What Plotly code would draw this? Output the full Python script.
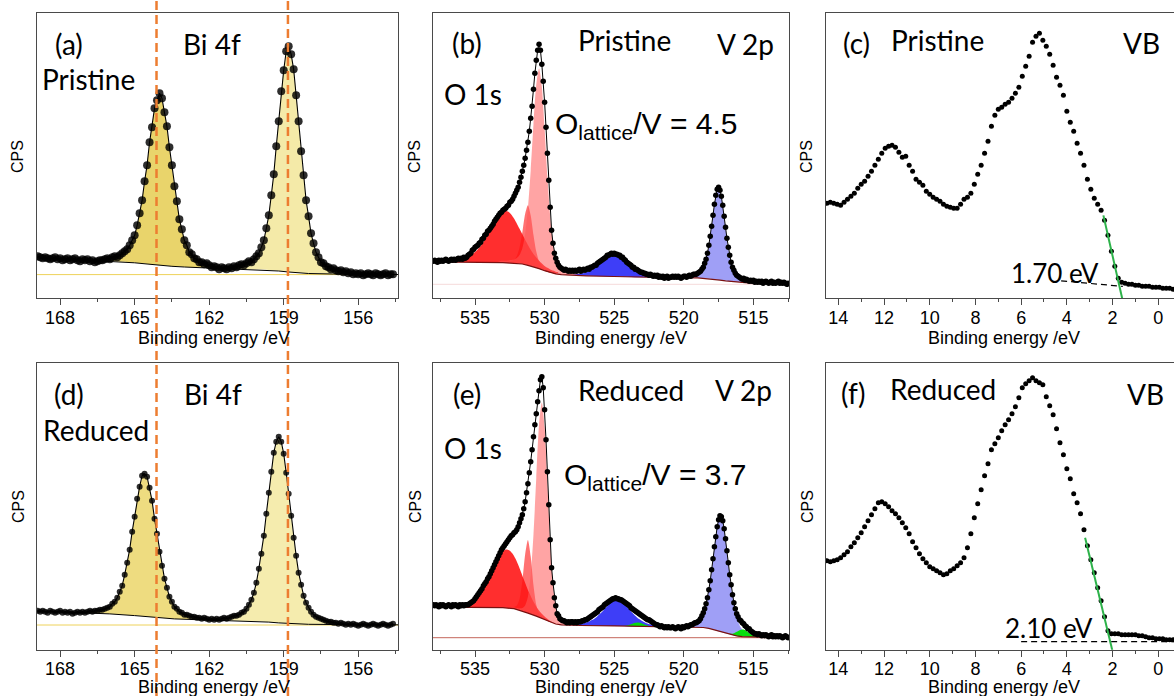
import plotly.graph_objects as go

FIG_W, FIG_H = 1174, 696

# ---------------- Bi 4f spectra (panels a, d) ----------------
# measured counts, 0.1 eV steps downward from the start energy
bi_step = 0.1
bi_p_start = 168.9
bi_p_counts = [
    42, 41, 40, 41, 40, 39, 40, 41, 39, 40,
    38, 39, 40, 38, 39, 40, 38, 37, 39, 38,
    39, 37, 38, 36, 37, 38, 38, 39, 40, 39,
    41, 42, 41, 43, 45, 47, 49, 53, 58, 63,
    73, 85, 98, 117, 133, 156, 171, 190, 198, 205,
    200, 186, 172, 151, 133, 112, 97, 79, 69, 58,
    53, 46, 44, 40, 39, 36, 36, 34, 35, 33,
    31, 32, 31, 29, 31, 30, 29, 31, 30, 32,
    31, 33, 34, 33, 35, 37, 36, 39, 42, 45,
    51, 58, 70, 83, 103, 124, 152, 177, 207, 228,
    247, 252, 244, 229, 203, 177, 147, 123, 98, 82,
    65, 55, 46, 41, 36, 35, 32, 31, 29, 30,
    28, 27, 28, 26, 27, 25, 26, 24, 25, 24,
    25, 23, 24, 25, 24, 23, 25, 24, 23, 24,
    25, 23, 24, 24,
]
bi_r_start = 168.9
bi_r_counts = [
    39, 38, 39, 38, 37, 39, 38, 37, 38, 39,
    37, 38, 37, 38, 36, 37, 38, 37, 38, 37,
    38, 39, 38, 39, 39, 40, 40, 41, 42, 43,
    46, 48, 52, 58, 64, 75, 87, 100, 118, 133,
    151, 163, 174, 176, 173, 162, 149, 131, 116, 98,
    84, 71, 62, 53, 48, 43, 41, 38, 37, 35,
    35, 34, 33, 33, 32, 32, 31, 32, 31, 30,
    31, 30, 31, 30, 31, 32, 31, 32, 33, 34,
    34, 35, 37, 38, 41, 45, 50, 57, 67, 81,
    96, 114, 136, 157, 178, 197, 208, 213, 208, 196,
    177, 156, 134, 112, 94, 77, 65, 54, 47, 42,
    38, 35, 33, 32, 31, 30, 29, 28, 28, 27,
    27, 26, 27, 26, 25, 26, 25, 26, 25, 24,
    25, 26, 25, 24, 25, 26, 25, 24, 25, 26,
    25, 24, 25, 26,
]

# Shirley backgrounds (knots)
bi_p_bg_E = [168.93, 168.0, 167.0, 166.0, 165.5, 165.0, 164.5, 164.0, 163.5, 163.0, 162.0,
             161.0, 160.0, 159.6, 159.2, 158.8, 158.4, 158.0, 157.0, 156.0, 154.4]
bi_p_bg_I = [40.6, 39.5, 38.5, 37.3, 36.5, 35.5, 34.3, 33.0, 32.0, 31.3, 30.3,
             29.5, 28.7, 28.3, 27.3, 26.3, 25.4, 24.8, 24.3, 24.0, 23.8]
bi_r_bg_E = [168.93, 168.0, 167.0, 166.0, 165.0, 164.6, 164.0, 163.4, 162.0, 161.0,
             160.0, 159.6, 159.2, 158.8, 158.4, 158.0, 157.0, 156.0, 154.4]
bi_r_bg_I = [38.7, 37.8, 36.8, 35.8, 34.1, 33.1, 31.7, 30.8, 29.6, 28.9,
             28.1, 27.6, 26.8, 26.1, 25.6, 25.4, 25.2, 25.0, 24.9]

# fitted components: upper edge of each peak on a 0.2 eV grid from its start energy
fit_step = 0.2
bi_p_f52_start = 166.8
bi_p_f52 = [38.9, 38.9, 39.0, 39.3, 40.0, 41.0, 42.7, 45.8, 51.9, 63.5, 84.0, 115.5, 154.0, 188.5, 203.0,
            187.6, 152.2, 112.9, 80.6, 59.3, 47.1, 40.4, 36.7, 34.5, 33.0, 31.9, 31.1, 30.65, 30.15]
bi_p_f72_start = 161.6
bi_p_f72 = [30.6, 30.9, 31.2, 31.9, 32.8, 34.1, 35.9, 38.9, 45.1, 58.5, 84.3, 124.8, 178.3, 229.3, 251.3,
            228.3, 176.4, 122.1, 80.8, 54.6, 40.9, 34.5, 31.3, 29.3, 27.7, 26.5, 25.7, 25.1, 24.7]
bi_r_f52_start = 167.4
bi_r_f52 = [37.6, 37.7, 37.8, 38.2, 38.7, 39.6, 41.1, 43.4, 47.9, 57.4, 74.9, 101.0, 133.5, 163.6, 176.1,
            162.6, 131.5, 98.2, 71.3, 53.2, 43.2, 38.2, 35.5, 33.6, 32.4, 31.5, 30.8, 30.3, 29.9]
bi_r_f72_start = 162.0
bi_r_f72 = [30.2, 30.4, 30.6, 31.2, 32.0, 33.4, 35.4, 38.5, 44.6, 57.1, 80.2, 114.4, 156.9, 196.3, 212.8,
            195.5, 155.4, 112.3, 77.7, 54.3, 41.6, 35.2, 32.0, 29.7, 28.2, 27.2, 26.4, 26.0, 25.7]
bi_p_zero = 23.7
bi_r_zero = 24.7
bi_ref_lines = [164.12, 158.83]

# ---------------- O 1s + V 2p spectra (panels b, e) ----------------
ov_step = 0.1
ov_p_start = 538.0
ov_p_counts = [
    37, 38, 37, 36, 38, 37, 38, 37, 38, 39,
    38, 37, 38, 39, 38, 39, 38, 39, 40, 39,
    40, 39, 41, 40, 41, 43, 44, 45, 48, 49,
    51, 52, 53, 55, 56, 59, 60, 63, 64, 67,
    68, 70, 72, 74, 77, 79, 81, 83, 85, 86,
    88, 89, 90, 92, 93, 96, 97, 99, 102, 105,
    108, 111, 116, 121, 127, 133, 140, 148, 156, 167,
    180, 192, 209, 225, 238, 248, 254, 248, 234, 217,
    196, 171, 145, 118, 91, 68, 55, 45, 40, 36,
    33, 31, 30, 29, 28, 29, 28, 27, 28, 27,
    28, 27, 28, 27, 28, 29, 27, 28, 29, 28,
    29, 30, 29, 31, 31, 32, 33, 33, 35, 36,
    37, 38, 39, 40, 41, 43, 43, 44, 45, 44,
    45, 44, 44, 43, 43, 41, 41, 39, 38, 36,
    35, 34, 33, 31, 31, 29, 29, 28, 27, 26,
    26, 25, 25, 24, 24, 23, 24, 23, 22, 23,
    22, 23, 21, 22, 21, 22, 20, 21, 22, 20,
    21, 21, 22, 21, 22, 21, 22, 21, 20, 21,
    22, 22, 21, 22, 23, 22, 23, 24, 24, 24,
    25, 26, 27, 29, 31, 35, 39, 45, 53, 62,
    72, 83, 94, 103, 109, 111, 108, 102, 93, 82,
    71, 60, 51, 43, 36, 31, 28, 25, 23, 22,
    21, 20, 19, 20, 18, 19, 18, 17, 18, 17,
    18, 16, 17, 16, 17, 16, 17, 15, 16, 17,
    16, 15, 16, 17, 15, 16, 15, 16, 17, 15,
    16, 15, 16, 15, 14, 15,
]
ov_r_start = 538.0
ov_r_counts = [
    45, 44, 45, 44, 43, 45, 44, 45, 44, 43,
    44, 45, 44, 43, 45, 44, 45, 44, 43, 45,
    44, 45, 44, 45, 45, 45, 46, 47, 48, 49,
    51, 53, 55, 57, 59, 61, 64, 66, 68, 71,
    73, 76, 79, 82, 85, 88, 91, 94, 97, 100,
    102, 104, 106, 108, 110, 112, 114, 115, 117, 118,
    120, 123, 127, 131, 135, 141, 148, 157, 166, 177,
    188, 200, 213, 225, 236, 248, 259, 270, 273, 262,
    240, 210, 178, 145, 110, 82, 67, 52, 44, 36,
    34, 31, 30, 29, 29, 28, 27, 28, 27, 28,
    28, 27, 28, 27, 28, 28, 28, 29, 29, 30,
    30, 31, 32, 33, 34, 35, 36, 37, 38, 40,
    41, 42, 43, 45, 46, 47, 48, 49, 50, 51,
    51, 52, 51, 51, 50, 50, 49, 48, 47, 46,
    45, 44, 42, 41, 40, 39, 38, 37, 36, 35,
    34, 33, 32, 31, 30, 30, 29, 28, 27, 26,
    25, 25, 24, 23, 24, 23, 22, 23, 22, 23,
    22, 22, 23, 22, 21, 22, 23, 22, 21, 23,
    22, 23, 24, 23, 24, 25, 25, 26, 27, 27,
    28, 29, 31, 34, 37, 41, 46, 52, 60, 69,
    80, 91, 103, 113, 123, 130, 134, 133, 129, 121,
    111, 99, 87, 75, 65, 55, 47, 41, 36, 33,
    30, 29, 27, 26, 24, 23, 21, 21, 19, 18,
    17, 16, 16, 15, 16, 15, 14, 15, 14, 15,
    14, 13, 14, 15, 13, 14, 13, 14, 13, 14,
    13, 12, 13, 14, 13, 12,
]

ov_p_bg_E = [538.02, 536.0, 535.0, 534.0, 533.0, 532.5, 532.0, 531.6, 531.2, 530.8, 530.4,
             530.0, 529.6, 529.2, 528.8, 528.2, 527.0, 525.0, 523.0, 521.0, 519.0, 518.6,
             518.2, 517.8, 517.4, 517.0, 516.6, 516.2, 515.8, 515.4, 514.6, 513.6, 512.44]
ov_p_bg_I = [36.5, 36.4, 36.2, 36.0, 35.6, 35.2, 34.8, 34.3, 33.0, 31.5, 29.7,
             27.6, 25.8, 24.4, 23.6, 23.0, 22.5, 21.8, 21.0, 20.7, 20.5, 20.1,
             19.6, 18.9, 18.2, 17.5, 16.9, 16.3, 15.9, 15.5, 15.1, 14.9, 14.7]
ov_r_bg_E = [538.02, 535.4, 533.0, 532.2, 531.8, 531.2, 530.6, 530.0, 529.6, 529.2,
             528.8, 528.2, 527.4, 525.0, 523.0, 521.0, 519.0, 518.6, 518.2, 517.8,
             517.4, 517.0, 516.6, 516.2, 515.8, 515.2, 514.0, 512.44]
ov_r_bg_I = [42.5, 42.5, 42.0, 41.0, 39.5, 36.6, 33.6, 30.2, 27.6, 25.7,
             24.8, 24.3, 24.2, 23.8, 23.2, 22.7, 22.5, 22.2, 21.3, 19.8,
             18.0, 16.4, 14.9, 13.8, 13.1, 12.7, 12.4, 12.3]

ov_p_o3_start = 537.0
ov_p_o3 = [38.0, 38.1, 38.3, 38.6, 39.0, 39.5, 40.2, 41.1, 42.4, 44.0, 46.3, 49.0, 52.3, 56.4,
           60.8, 65.8, 70.8, 75.9, 80.6, 84.3, 86.8, 87.4, 86.5, 83.7, 79.8, 74.9, 69.5, 64.1,
           58.5, 53.3, 48.5, 44.3, 40.7, 37.5, 34.8, 32.4, 30.5, 28.9, 27.7, 26.6, 25.9]
ov_p_o2_start = 533.2
ov_p_o2 = [36.5, 36.5, 36.6, 36.8, 37.2, 38.5, 42.1, 50.7, 66.1, 84.3, 93.0, 82.9, 63.3, 46.7,
           37.0, 32.2, 29.7, 28.2, 27.0, 26.0, 25.2]
ov_p_latt_start = 533.4
ov_p_latt = [37.2, 37.3, 37.5, 37.6, 37.9, 38.3, 38.8, 40.2, 43.4, 50.1, 64.1, 89.6, 127.7, 173.7,
             213.8, 229.7, 211.9, 169.8, 122.1, 82.4, 55.5, 40.2, 32.8, 29.0, 27.2, 26.4, 25.6,
             25.1, 24.7, 24.4, 24.1]
ov_p_v12_start = 528.0
ov_p_v12 = [23.9, 24.1, 24.4, 24.7, 25.2, 26.0, 27.0, 28.5, 30.2, 32.4, 34.9, 37.5, 39.9, 42.0,
            43.4, 43.8, 43.2, 41.7, 39.5, 36.9, 34.1, 31.5, 29.1, 27.3, 25.7, 24.5, 23.6, 22.9,
            22.5, 22.2, 21.9]
ov_p_v32_start = 520.3
ov_p_v32 = [21.7, 21.9, 22.1, 22.3, 22.6, 23.0, 23.7, 24.8, 27.6, 33.7, 44.4, 61.4, 82.6, 102.1,
            110.4, 101.4, 81.2, 59.4, 41.8, 30.5, 24.1, 20.8, 19.2, 18.3, 17.6, 17.2, 16.9, 16.6,
            16.3]

ov_r_o3_start = 535.9
ov_r_o3 = [43.4, 44.0, 44.8, 46.2, 47.9, 50.4, 53.7, 57.8, 62.8, 68.4, 74.6, 81.0, 87.1, 92.6,
           96.8, 99.5, 100.1, 99.0, 95.9, 91.1, 84.9, 77.8, 70.5, 63.3, 56.6, 50.6, 45.4, 41.0,
           37.4, 34.5, 31.9, 29.8, 28.0]
ov_r_o2_start = 533.2
ov_r_o2 = [42.4, 42.5, 42.5, 42.4, 42.5, 42.8, 44.2, 50.8, 68.4, 95.2, 109.6, 93.2, 64.5, 44.9,
           36.4, 33.1, 31.4, 29.8, 28.3, 27.2, 26.1]
ov_r_latt_start = 532.8
ov_r_latt = [42.6, 42.4, 42.4, 42.3, 41.8, 41.4, 41.7, 44.3, 53.0, 74.7, 115.2, 171.6, 225.2,
             247.3, 222.9, 166.9, 108.2, 65.8, 42.1, 32.0, 28.0, 26.5, 26.0, 25.6, 25.4, 25.2, 25.0]
ov_r_v12_start = 527.8
ov_r_v12 = [25.4, 25.7, 26.0, 26.5, 27.2, 28.2, 29.6, 31.3, 33.5, 36.1, 39.0, 42.1, 45.0, 47.5,
            49.2, 49.7, 49.1, 47.3, 44.7, 41.7, 38.5, 35.5, 32.8, 30.6, 28.7, 27.3, 26.2, 25.4,
            24.8, 24.5, 24.0]
ov_r_v12_v4_start = 524.3
ov_r_v12_v4 = [23.8, 24.2, 25.0, 26.0, 26.9, 27.3, 26.8, 25.8, 24.6, 23.8, 23.3]
ov_r_v32_start = 520.15
ov_r_v32 = [24.5, 24.7, 25.0, 25.5, 26.0, 27.0, 28.9, 32.2, 38.3, 48.7, 64.5, 85.2, 108.0, 126.7,
            133.8, 125.0, 104.6, 80.3, 58.2, 41.3, 29.9, 23.3, 19.5, 17.4, 16.3, 15.6, 15.0, 14.7,
            14.4]
ov_r_v32_v4_start = 516.75
ov_r_v32_v4 = [15.9, 16.0, 16.8, 18.2, 19.7, 20.1, 19.2, 17.3, 15.3, 13.8, 13.0]
ov_p_zero = 14.0
ov_r_zero = 12.0
o_lattice_ratio = [4.5, 3.7]

# ---------------- valence band spectra (panels c, f) ----------------
vb_step = 0.15
vb_p_start = 14.5
vb_p_counts = [
    95, 96, 95, 94, 93, 96, 99, 102, 105, 110,
    114, 117, 122, 127, 133, 139, 145, 150, 152, 153,
    151, 146, 141, 142, 133, 127, 119, 116, 113, 107,
    104, 101, 99, 97, 94, 92, 91, 90, 90, 94,
    99, 101, 105, 114, 124, 133, 145, 157, 172, 183,
    189, 191, 194, 196, 200, 205, 211, 222, 232, 242,
    256, 262, 265, 258, 252, 244, 233, 221, 213, 203,
    187, 176, 167, 155, 145, 133, 119, 109, 100, 94,
    88, 78, 63, 47, 32, 20, 16, 15, 14, 14,
    13, 13, 12, 12, 12, 11, 11, 11, 10, 10, 10, 9,
]
vb_r_start = 14.5
vb_r_counts = [
    89, 88, 89, 90, 92, 95, 98, 103, 107, 112,
    117, 123, 129, 135, 141, 147, 148, 146, 143, 139,
    136, 132, 127, 122, 116, 108, 102, 96, 91, 87,
    83, 81, 79, 77, 75, 76, 79, 81, 84, 87,
    92, 102, 116, 132, 146, 160, 174, 186, 200, 206,
    212, 219, 225, 230, 236, 243, 252, 262, 266, 269,
    272, 269, 267, 265, 253, 244, 235, 221, 207, 195,
    181, 171, 156, 147, 136, 120, 104, 90, 77, 62,
    49, 33, 19, 16, 16, 16, 15, 15, 15, 15,
    15, 14, 14, 13, 12, 12, 11, 11, 11, 10, 10, 10,
]
vb_onset = [1.70, 2.10]
# leading-edge tangents and baselines (energy, counts end points)
vb_p_edge_E, vb_p_edge_I = [2.40, 1.55], [82.9, -2.9]
vb_p_base_E, vb_p_base_I = [4.25, 1.55], [17.5, 11.9]
vb_r_edge_E, vb_r_edge_I = [3.20, 2.00], [112.0, -1.5]
vb_r_base_E, vb_r_base_I = [6.0, -0.7], [8.0, 8.0]

# ---------------- drawing ----------------
ARIAL = "Arial, 'Liberation Sans', Helvetica, sans-serif"
LABEL = "Lato, Carlito, 'Open Sans', sans-serif"
AX_COLOR = "#4a4a4a"

fig = go.Figure()


def energies(start, step, n):
    return [round(start - step * k, 3) for k in range(n)]


def add_fill(ax, start, upper, bg_E, bg_I, color):
    e = energies(start, fit_step, len(upper))
    lo, hi = e[-1], e[0]
    knots = sorted((x, y) for x, y in zip(bg_E, bg_I) if lo < x < hi)
    xs = e + [x for x, _ in knots]
    ys = list(upper) + [y for _, y in knots]
    fig.add_trace(go.Scatter(x=xs, y=ys, xaxis=ax[0], yaxis=ax[1], mode="lines",
                             fill="toself", fillcolor=color,
                             line=dict(width=0, shape="spline", smoothing=0.7),
                             hoverinfo="skip"))


def add_line(ax, x, y, color, width, dash=None):
    fig.add_trace(go.Scatter(x=x, y=y, xaxis=ax[0], yaxis=ax[1], mode="lines",
                             line=dict(color=color, width=width, dash=dash),
                             hoverinfo="skip"))


def add_dots(ax, x, y, size, color):
    fig.add_trace(go.Scatter(x=x, y=y, xaxis=ax[0], yaxis=ax[1], mode="markers",
                             marker=dict(size=size, color=color, line=dict(width=0)),
                             hoverinfo="skip"))


AX = {k: (f"x{i}" if i > 1 else "x", f"y{i}" if i > 1 else "y")
      for i, k in enumerate("abcdef", start=1)}

# (a) / (d) Bi 4f
for key, start, counts, bgE, bgI, f52s, f52, f72s, f72, c52, c72, msize in [
    ("a", bi_p_start, bi_p_counts, bi_p_bg_E, bi_p_bg_I, bi_p_f52_start, bi_p_f52,
     bi_p_f72_start, bi_p_f72, "#E9D46B", "#F4EAA8", 8),
    ("d", bi_r_start, bi_r_counts, bi_r_bg_E, bi_r_bg_I, bi_r_f52_start, bi_r_f52,
     bi_r_f72_start, bi_r_f72, "#EEDC80", "#F5ECAE", 6),
]:
    ax = AX[key]
    E = energies(start, bi_step, len(counts))
    add_fill(ax, f52s, f52, bgE, bgI, c52)
    add_fill(ax, f72s, f72, bgE, bgI, c72)
    add_line(ax, bgE, bgI, "black", 1)
    add_line(ax, E, counts, "black", 1.1)
    add_dots(ax, E, counts, msize, "rgba(0,0,0,0.82)")

# (b) / (e) O 1s and V 2p
RED_O3 = "rgba(255,0,0,0.82)"
RED_O2 = "rgba(255,20,20,0.6)"
PINK = "rgba(255,90,90,0.55)"
BLUE_12 = "rgba(20,20,245,0.82)"
BLUE_32 = "rgba(100,100,240,0.62)"
GREEN = "rgba(0,225,0,0.95)"
BG_RED = "#7a1010"

ax = AX["b"]
E = energies(ov_p_start, ov_step, len(ov_p_counts))
add_fill(ax, ov_p_o3_start, ov_p_o3, ov_p_bg_E, ov_p_bg_I, RED_O3)
add_fill(ax, ov_p_o2_start, ov_p_o2, ov_p_bg_E, ov_p_bg_I, RED_O2)
add_fill(ax, ov_p_latt_start, ov_p_latt, ov_p_bg_E, ov_p_bg_I, PINK)
add_fill(ax, ov_p_v12_start, ov_p_v12, ov_p_bg_E, ov_p_bg_I, BLUE_12)
add_fill(ax, ov_p_v32_start, ov_p_v32, ov_p_bg_E, ov_p_bg_I, BLUE_32)
add_line(ax, ov_p_bg_E, ov_p_bg_I, BG_RED, 1.2)
add_line(ax, E, ov_p_counts, "black", 1)
add_dots(ax, E, ov_p_counts, 5.5, "black")

ax = AX["e"]
E = energies(ov_r_start, ov_step, len(ov_r_counts))
add_fill(ax, ov_r_o3_start, ov_r_o3, ov_r_bg_E, ov_r_bg_I, RED_O3)
add_fill(ax, ov_r_o2_start, ov_r_o2, ov_r_bg_E, ov_r_bg_I, RED_O2)
add_fill(ax, ov_r_latt_start, ov_r_latt, ov_r_bg_E, ov_r_bg_I, PINK)
add_fill(ax, ov_r_v12_start, ov_r_v12, ov_r_bg_E, ov_r_bg_I, BLUE_12)
add_fill(ax, ov_r_v12_v4_start, ov_r_v12_v4, ov_r_bg_E, ov_r_bg_I, GREEN)
add_fill(ax, ov_r_v32_start, ov_r_v32, ov_r_bg_E, ov_r_bg_I, BLUE_32)
add_fill(ax, ov_r_v32_v4_start, ov_r_v32_v4, ov_r_bg_E, ov_r_bg_I, GREEN)
add_line(ax, ov_r_bg_E, ov_r_bg_I, BG_RED, 1.2)
add_line(ax, E, ov_r_counts, "black", 1)
add_dots(ax, E, ov_r_counts, 5.5, "black")

# (c) / (f) valence band
for key, start, counts, eE, eI, bE, bI in [
    ("c", vb_p_start, vb_p_counts, vb_p_edge_E, vb_p_edge_I, vb_p_base_E, vb_p_base_I),
    ("f", vb_r_start, vb_r_counts, vb_r_edge_E, vb_r_edge_I, vb_r_base_E, vb_r_base_I),
]:
    ax = AX[key]
    E = energies(start, vb_step, len(counts))
    add_dots(ax, E, counts, 5, "black")
    add_line(ax, bE, bI, "black", 1.2, dash="6px,4px")
    add_line(ax, eE, eI, "#2DB24A", 2)

# ---------------- axes ----------------
cols = [(37, 398), (433, 789), (826, 1174)]
rows = [(13.3, 298.3), (363, 649.7)]
xspec = [
    dict(range=[168.93, 154.4], tick0=168, dtick=3, minor=1.5),
    dict(range=[538.02, 512.44], tick0=535, dtick=5, minor=2.5),
    dict(range=[14.54, -0.69], tick0=0, dtick=2, minor=1),
]
layout = dict(
    width=FIG_W, height=FIG_H, margin=dict(l=0, r=0, t=0, b=0),
    paper_bgcolor="white", plot_bgcolor="white", showlegend=False, hovermode=False,
)
for r in range(2):
    for c in range(3):
        i = r * 3 + c + 1
        sfx = "" if i == 1 else str(i)
        xs = xspec[c]
        layout["xaxis" + sfx] = dict(
            domain=[cols[c][0] / FIG_W, cols[c][1] / FIG_W], anchor="y" + sfx,
            range=xs["range"], autorange=False, tickmode="linear", tick0=xs["tick0"],
            dtick=xs["dtick"], ticks="outside", ticklen=6, tickwidth=1, tickcolor=AX_COLOR,
            ticklabelstandoff=-3,
            minor=dict(ticks="outside", ticklen=3, tickwidth=1, tickcolor=AX_COLOR,
                       tick0=xs["tick0"], dtick=xs["minor"]),
            tickfont=dict(family=ARIAL, size=18, color="black"),
            showline=True, linecolor=AX_COLOR, linewidth=1, mirror=True,
            showgrid=False, zeroline=False,
        )
        layout["yaxis" + sfx] = dict(
            domain=[1 - rows[r][1] / FIG_H, 1 - rows[r][0] / FIG_H], anchor="x" + sfx,
            range=[0, rows[r][1] - rows[r][0]], autorange=False,
            showticklabels=False, ticks="", showline=True, linecolor=AX_COLOR,
            linewidth=1, mirror=(c != 2), showgrid=False, zeroline=False,
        )
fig.update_layout(**layout)

# reference lines
shapes = []
for e in bi_ref_lines:
    shapes.append(dict(type="line", xref="x", yref="paper", x0=e, x1=e, y0=0, y1=1,
                       line=dict(color="#ED7D31", width=2.5, dash="9px,5px"), layer="above"))
for xr, yr, yv, col in [("x domain", "y", bi_p_zero, "#EED25A"),
                        ("x4 domain", "y4", bi_r_zero, "#EED25A"),
                        ("x2 domain", "y2", ov_p_zero, "#F6DADA"),
                        ("x5 domain", "y5", ov_r_zero, "#C4675C")]:
    shapes.append(dict(type="line", xref=xr, yref=yr, x0=0, x1=1, y0=yv, y1=yv,
                       line=dict(color=col, width=1), layer="below"))
fig.update_layout(shapes=shapes)

# ---------------- text ----------------
def txt(text, xpx, ypx, size=28, family=LABEL, xanchor="center", **kw):
    return dict(text=text, x=xpx / FIG_W, y=1 - ypx / FIG_H, xref="paper", yref="paper",
                showarrow=False, xanchor=xanchor, yanchor="middle",
                font=dict(family=family, size=size, color="black"), **kw)


ann = [
    txt("(a)", 68.5, 44), txt("Bi 4f", 212, 44), txt("Pristine", 88, 79),
    txt("(b)", 466.5, 43), txt("Pristine", 624, 40), txt("V 2p", 745, 44), txt("O 1s", 473, 94),
    txt("(c)", 856, 43), txt("Pristine", 937.5, 40), txt("VB", 1141, 43),
    txt("(d)", 68.5, 394), txt("Bi 4f", 213, 394), txt("Reduced", 96, 430),
    txt("(e)", 466.5, 394), txt("Reduced", 631, 390), txt("V 2p", 743, 390), txt("O 1s", 473, 448),
    txt("(f)", 853, 393), txt("Reduced", 943, 389), txt("VB", 1145, 394),
    txt(f"{vb_onset[0]:.2f} eV", 1055, 273, size=26),
    txt(f"{vb_onset[1]:.2f} eV", 1049, 628, size=26),
    txt(f"O<sub>lattice</sub>/V = {o_lattice_ratio[0]}", 553, 126, size=30, family=ARIAL,
        xanchor="left"),
    txt(f"O<sub>lattice</sub>/V = {o_lattice_ratio[1]}", 562, 476, size=30, family=ARIAL,
        xanchor="left"),
]
for xc in (214, 611, 1004):
    ann.append(txt("Binding energy /eV", xc, 338, size=18, family=ARIAL))
    ann.append(txt("Binding energy /eV", xc, 687, size=18, family=ARIAL))
for xc in (18, 415, 807):
    ann.append(txt("CPS", xc, 157, size=16, family=ARIAL, textangle=-90))
    ann.append(txt("CPS", xc, 507, size=16, family=ARIAL, textangle=-90))
fig.update_layout(annotations=ann)

fig.write_html("out.html")
